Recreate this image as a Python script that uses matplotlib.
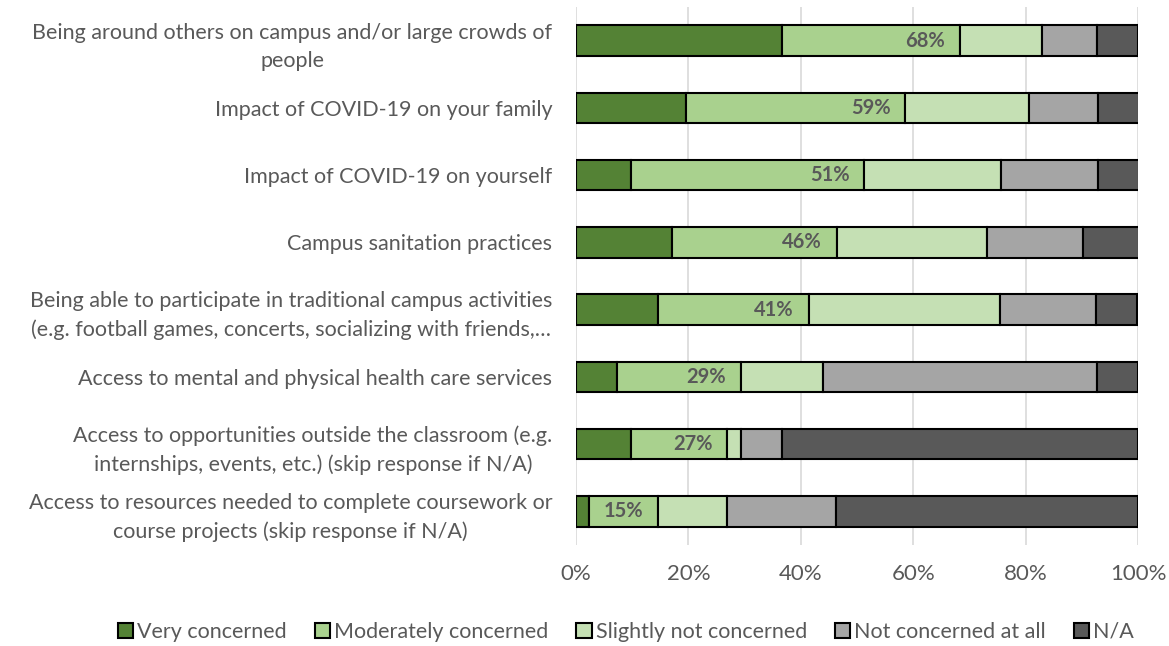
import numpy as np
import matplotlib.pyplot as plt

plt.rcParams['font.family'] = ['Lato', 'DejaVu Sans']

# Kategorie (od góry do dołu)
categories = [
    "Being around others on campus and/or large crowds of\npeople",
    "Impact of COVID-19 on your family",
    "Impact of COVID-19 on yourself",
    "Campus sanitation practices",
    "Being able to participate in traditional campus activities\n(e.g. football games, concerts, socializing with friends,\u2026",
    "Access to mental and physical health care services",
    "Access to opportunities outside the classroom (e.g.\ninternships, events, etc.) (skip response if N/A)",
    "Access to resources needed to complete coursework or\ncourse projects (skip response if N/A)",
]

# Udziały odpowiedzi w %
very = [36.6, 19.5, 9.8, 17.1, 14.6, 7.3, 9.8, 2.4]
moderate = [31.7, 39.1, 41.5, 29.3, 26.8, 22.0, 17.1, 12.2]
slightly = [14.6, 22.0, 24.4, 26.8, 34.1, 14.6, 2.4, 12.2]
not_at_all = [9.8, 12.2, 17.1, 17.1, 17.1, 48.8, 7.3, 19.5]
na = [7.3, 7.3, 7.3, 9.8, 7.3, 7.3, 63.4, 53.7]

series = [very, moderate, slightly, not_at_all, na]
names = ["Very concerned", "Moderately concerned", "Slightly not concerned",
         "Not concerned at all", "N/A"]
colors = ["#548235", "#A9D18E", "#C5E0B4", "#A5A5A5", "#595959"]
text_color = "#595959"

fig = plt.figure(figsize=(11.69, 6.46), dpi=100)
ax = fig.add_axes([576 / 1169, 1 - 545 / 646, (1138 - 576) / 1169, (545 - 7) / 646])

y = np.arange(len(categories))
left = np.zeros(len(categories))
for vals, name, col in zip(series, names, colors):
    ax.barh(y, vals, left=left, height=0.45, color=col, edgecolor="black",
            linewidth=1.5, label=name, zorder=3)
    left += np.array(vals)

# Etykiety: very + moderate
top2 = np.array(very) + np.array(moderate)
for yi, v in zip(y, top2):
    ax.text(v - 2.6, yi, f"{v:.0f}%", ha="right", va="center", fontsize=14.5,
            fontweight="bold", color=text_color, zorder=4)

ax.set_xlim(0, 100)
ax.set_ylim(len(categories) - 0.5, -0.5)
ax.set_yticks(y)
ax.set_yticklabels(categories, fontsize=15.5, color=text_color, ha="right",
                   multialignment="center", linespacing=1.5)
ax.set_xticks(np.arange(0, 101, 20))
ax.set_xticklabels([f"{t}%" for t in range(0, 101, 20)], fontsize=16, color=text_color)
ax.tick_params(axis="y", length=0, pad=17)
ax.tick_params(axis="x", length=0, pad=14)
ax.grid(axis="x", color="#D9D9D9", linewidth=1.2, zorder=0)
for s in ax.spines.values():
    s.set_visible(False)

fig.legend(loc="center", bbox_to_anchor=(626 / 1169, 1 - 632 / 646), ncol=5,
           frameon=False, fontsize=15.5, labelcolor=text_color, handlelength=0.7,
           handleheight=0.7, handletextpad=0.2, columnspacing=1.3)

plt.savefig("out.png", dpi=100)
